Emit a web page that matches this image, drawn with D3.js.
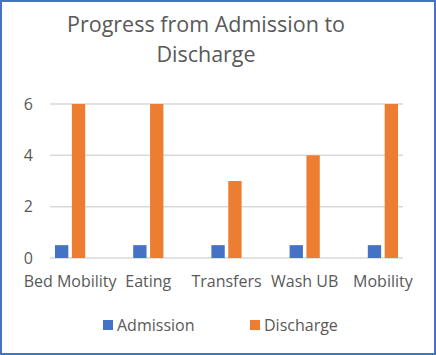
<!DOCTYPE html>
<html><head><meta charset="utf-8">
<script src="https://cdn.jsdelivr.net/npm/d3@7"></script>
<style>body{margin:0;background:#fff;} svg{display:block;} text{font-family:"Open Sans","Noto Sans",sans-serif;fill:#595959;}</style>
</head><body>
<script>
const categories = ["Bed Mobility","Eating","Transfers","Wash UB","Mobility"];
const seriesNames = ["Admission","Discharge"];
const admission = [0.5,0.5,0.5,0.5,0.5];
const discharge = [6,6,3,4,6];
const yTicks = [0,2,4,6];
const colors = ["#4472C4","#ED7D31"];
const titleLines = ["Progress from Admission to","Discharge"];

const W=436,H=355;
const svg=d3.select("body").append("svg").attr("width",W).attr("height",H);
svg.append("rect").attr("x",1).attr("y",1).attr("width",W-2).attr("height",H-2)
  .attr("fill","#fff").attr("stroke","#4472C4").attr("stroke-width",2);

const y=d3.scaleLinear().domain([0,6]).range([258,104]);
const x0=d3.scaleBand().domain(categories).range([31,422]).paddingInner(0.614).paddingOuter(0.307);
const x1=d3.scaleBand().domain(seriesNames).range([0,x0.bandwidth()]).paddingInner(0.21);

// gridlines
svg.append("g").selectAll("line").data(yTicks).join("line")
  .attr("x1",50).attr("x2",403).attr("y1",d=>y(d)).attr("y2",d=>y(d))
  .attr("stroke","#D9D9D9").attr("stroke-width",1.5);

// y labels
svg.append("g").selectAll("text").data(yTicks).join("text")
  .attr("x",33).attr("y",d=>y(d)).attr("dy","0.36em").attr("text-anchor","end")
  .attr("font-size",16).text(d=>d);

const data=categories.map((c,i)=>({c,vals:[admission[i],discharge[i]]}));
const g=svg.append("g").selectAll("g").data(data).join("g")
  .attr("transform",d=>`translate(${x0(d.c)},0)`);
g.selectAll("rect").data(d=>d.vals.map((v,j)=>({s:seriesNames[j],v,j}))).join("rect")
  .attr("x",d=>x1(d.s)).attr("width",x1.bandwidth())
  .attr("y",d=>y(d.v)).attr("height",d=>y(0)-y(d.v)).attr("fill",d=>colors[d.j]);

// x labels
svg.append("g").selectAll("text").data(categories).join("text")
  .attr("x",d=>x0(d)+x0.bandwidth()/2).attr("y",287).attr("text-anchor","middle")
  .attr("font-size",16).text(d=>d);

// title
svg.append("g").selectAll("text").data(titleLines).join("text")
  .attr("x",206).attr("y",(d,i)=>32+i*30).attr("text-anchor","middle")
  .attr("font-size",21.5).text(d=>d);

// legend
const leg=svg.append("g").selectAll("g").data(seriesNames).join("g")
  .attr("transform",(d,i)=>`translate(${i?250:103},320)`);
leg.append("rect").attr("width",10).attr("height",10).attr("fill",(d,i)=>colors[i]);
leg.append("text").attr("x",14).attr("y",5).attr("dy","0.36em").attr("font-size",16).text(d=>d);
</script>
</body></html>
